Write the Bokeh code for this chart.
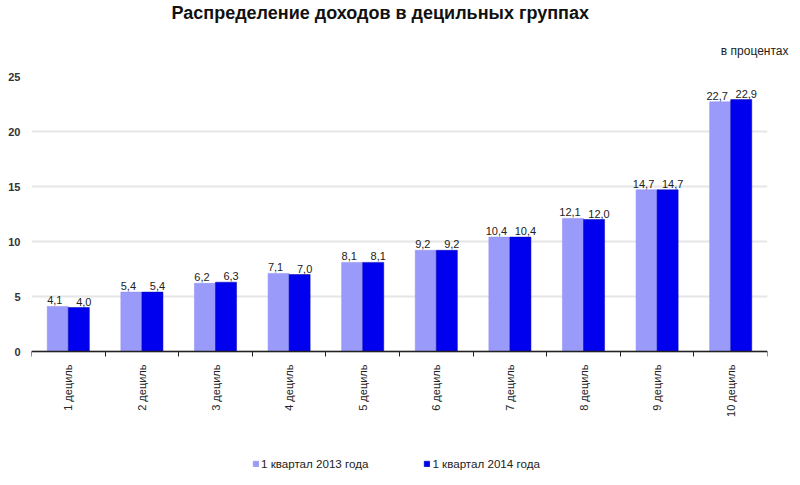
from bokeh.plotting import figure
from bokeh.models import (ColumnDataSource, Range1d, FixedTicker, Legend, LegendItem,
                          Title, LinearAxis)
from bokeh.core.properties import value
from bokeh.embed import file_html
from bokeh.resources import INLINE
import math

deciles = ["1 дециль", "2 дециль", "3 дециль", "4 дециль", "5 дециль",
           "6 дециль", "7 дециль", "8 дециль", "9 дециль", "10 дециль"]
q1_2013 = [4.1, 5.4, 6.2, 7.1, 8.1, 9.2, 10.4, 12.1, 14.7, 22.7]
q1_2014 = [4.0, 5.4, 6.3, 7.0, 8.1, 9.2, 10.4, 12.0, 14.7, 22.9]
series_names = ["1 квартал 2013 года", "1 квартал 2014 года"]
y_ticks = [0, 5, 10, 15, 20, 25]

FONT = "Liberation Sans"
LIGHT = "#9a9afa"
DARK = "#0000ee"
BAR_W = 0.286

n = len(deciles)
centers = [i + 0.5 for i in range(n)]
bounds = list(range(n + 1))

def fmt(v):
    return f"{v:.1f}".replace(".", ",")

src13 = ColumnDataSource(dict(x=[c - BAR_W / 2 for c in centers], top=q1_2013,
                              lab=[fmt(v) for v in q1_2013]))
src14 = ColumnDataSource(dict(x=[c + BAR_W / 2 for c in centers], top=q1_2014,
                              lab=[fmt(v) for v in q1_2014]))
src_cat = ColumnDataSource(dict(x=centers, y=[0] * n, lab=deciles))

# frame extends below zero to hold category labels and legend
p = figure(frame_width=736, frame_height=396, output_backend="svg", toolbar_location=None,
           x_range=Range1d(0, n), y_range=Range1d(-11, 25), x_axis_location=None,
           min_border_left=31, min_border_right=30, min_border_top=76,
           min_border_bottom=0, title=None)
p.outline_line_color = None
p.background_fill_color = "white"

r13 = p.vbar(x="x", top="top", width=BAR_W, source=src13, fill_color=LIGHT,
             line_color="#8f8ff0", line_width=0.5)
r14 = p.vbar(x="x", top="top", width=BAR_W, source=src14, fill_color=DARK,
             line_color="#0000aa", line_width=0.5)

for s, dx in ((src13, -3), (src14, 5)):
    p.text(x="x", y="top", text="lab", source=s, text_align="center",
           text_baseline="alphabetic", y_offset=-6, x_offset=dx,
           text_font=value(FONT), text_font_size="11px", text_color="#222222")

# category labels, rotated, reading bottom to top
p.text(x="x", y="y", text="lab", source=src_cat, angle=math.pi / 2,
       text_align="right", text_baseline="middle", y_offset=13,
       text_font=value(FONT), text_font_size="11px", text_color="#222222")

# y axis
p.yaxis.ticker = FixedTicker(ticks=y_ticks)
p.yaxis.axis_line_color = None
p.yaxis.major_tick_line_color = None
p.yaxis.minor_tick_line_color = None
p.yaxis.major_label_text_font = FONT
p.yaxis.major_label_text_font_size = "11px"
p.yaxis.major_label_text_font_style = "bold"
p.yaxis.major_label_text_color = "#333333"
p.yaxis.major_label_standoff = 5
p.ygrid.grid_line_color = "#e6e6e6"
p.ygrid.grid_line_width = 2
p.xgrid.grid_line_color = None

# x axis drawn at zero, ticks at category boundaries
xaxis = LinearAxis(fixed_location=0, ticker=FixedTicker(ticks=bounds),
                   major_label_overrides={b: "" for b in bounds},
                   major_label_standoff=0, major_tick_out=5, major_tick_in=0,
                   major_tick_line_color="#222222", minor_tick_line_color=None,
                   axis_line_color="#222222", axis_line_width=1.5)
p.add_layout(xaxis, "below")

legend = Legend(items=[LegendItem(label=series_names[0], renderers=[r13]),
                       LegendItem(label=series_names[1], renderers=[r14])],
                orientation="horizontal", location=(221, 2), spacing=55,
                label_standoff=2, glyph_width=7, glyph_height=7, label_height=14,
                label_text_font=FONT, label_text_font_size="11.6px",
                label_text_color="#222222", border_line_color=None,
                background_fill_alpha=0, padding=5, margin=0)
p.add_layout(legend, "center")

p.add_layout(Title(text="в процентах", align="right", offset=-21, text_font=FONT,
                   text_font_size="12px", text_font_style="normal",
                   text_color="#222222", standoff=38), "above")
p.add_layout(Title(text="Распределение доходов в децильных группах", align="left",
                   offset=140, text_font=FONT, text_font_size="18px",
                   text_font_style="bold", text_color="#111111", standoff=0), "above")

open("out.html", "w").write(file_html(p, INLINE))
